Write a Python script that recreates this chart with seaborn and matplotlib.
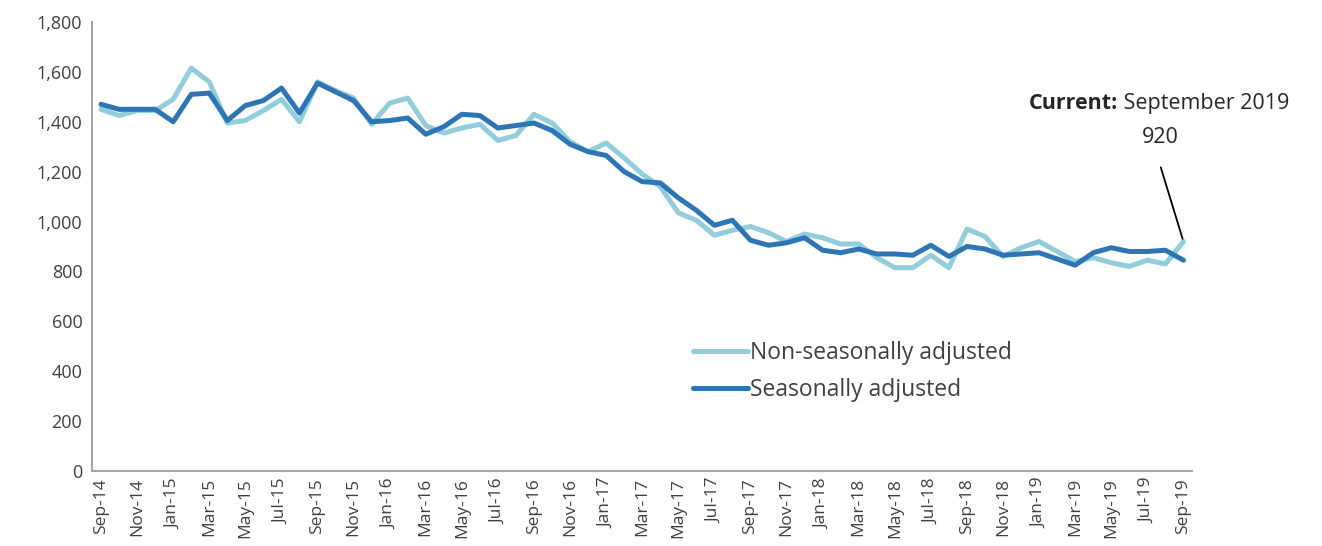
import numpy as np
import pandas as pd
import matplotlib
matplotlib.use('Agg')
import matplotlib.pyplot as plt
import seaborn as sns

# monthly, Sep-14 .. Sep-19
months = pd.date_range('2014-09-01', '2019-09-01', freq='MS')
month_labels = [d.strftime('%b-%y') for d in months]

nsa = [1450, 1425, 1445, 1445, 1490, 1615, 1560, 1395, 1405, 1445, 1490, 1400,
       1560, 1525, 1495, 1390, 1475, 1495, 1385, 1355, 1375, 1390, 1325, 1345,
       1430, 1395, 1320, 1280, 1315, 1255, 1190, 1140, 1035, 1005, 945, 965,
       980, 955, 920, 950, 935, 910, 910, 855, 815, 815, 865, 815,
       970, 940, 860, 895, 920, 880, 840, 855, 835, 820, 845, 830,
       920]
sa = [1470, 1450, 1450, 1450, 1400, 1510, 1515, 1405, 1465, 1485, 1535, 1435,
      1555, 1520, 1485, 1400, 1405, 1415, 1350, 1380, 1430, 1425, 1375, 1385,
      1395, 1365, 1310, 1280, 1265, 1200, 1160, 1155, 1095, 1045, 985, 1005,
      925, 905, 915, 935, 885, 875, 890, 870, 870, 865, 905, 860,
      900, 890, 865, 870, 875, 850, 825, 875, 895, 880, 880, 885,
      845]

series_names = ['Non-seasonally adjusted', 'Seasonally adjusted']
colors = ['#92CDDC', '#2E75B6']

df = pd.DataFrame({
    'idx': list(range(len(months))) * 2,
    'value': nsa + sa,
    'series': [series_names[0]] * len(nsa) + [series_names[1]] * len(sa),
})

sns.set_style('white')
plt.rcParams['font.family'] = ['Open Sans', 'DejaVu Sans']

fig = plt.figure(figsize=(13.22, 5.46), dpi=100)
ax = fig.add_axes([0.0696, 0.1374, 0.8324, 0.8223])

sns.lineplot(data=df, x='idx', y='value', hue='series', hue_order=series_names,
             palette=colors, linewidth=3.6, ax=ax, legend=False)

ax.set_xlim(-0.5, len(months) - 0.5)
ax.set_ylim(0, 1800)
ax.set_yticks(np.arange(0, 1801, 200))
ax.set_yticklabels([f'{v:,}' for v in range(0, 1801, 200)], fontsize=13, color='#404040')

# labels every 2 months, ticks between categories
label_pos = list(range(0, len(months), 2))
ax.set_xticks(label_pos)
ax.set_xticklabels([month_labels[i] for i in label_pos], rotation=90, fontsize=12.5,
                   color='#404040')
ax.set_xticks([i - 0.5 for i in label_pos], minor=True)
ax.tick_params(axis='x', which='major', length=0, pad=5)
ax.tick_params(axis='x', which='minor', length=5, color='#A6A6A6', width=1.2)
ax.tick_params(axis='y', length=5, color='#A6A6A6', width=1.2, pad=2)
ax.set_xlabel('')
ax.set_ylabel('')

for side in ['top', 'right']:
    ax.spines[side].set_visible(False)
for side in ['left', 'bottom']:
    ax.spines[side].set_color('#A6A6A6')
    ax.spines[side].set_linewidth(1.5)

# legend
handles = [plt.Line2D([], [], color=c, linewidth=3.6) for c in colors]
ax.legend(handles, series_names, loc='upper left', bbox_to_anchor=(0.527, 0.335),
          frameon=False, fontsize=16.5, handlelength=2.4, handletextpad=0.1,
          labelspacing=0.55, labelcolor='#404040')

# annotation for the latest value
ax.annotate('', xy=(60, nsa[-1]), xytext=(58.7, 1228),
            arrowprops=dict(arrowstyle='-', color='black', lw=1.3))

# "Current:" bold + date normal, centred as one block over the 920 label
renderer = fig.canvas.get_renderer()
t_bold = ax.text(0, 1475, 'Current:', fontsize=15.5, fontweight='bold',
                 color='#262626', ha='left', va='center')
t_norm = ax.text(0, 1475, ' September 2019', fontsize=15.5, color='#262626',
                 ha='left', va='center')
w_bold = t_bold.get_window_extent(renderer).width
w_norm = t_norm.get_window_extent(renderer).width
cx = ax.transData.transform((58.67, 1475))[0]
left = cx - (w_bold + w_norm) / 2
inv = ax.transData.inverted()
t_bold.set_x(inv.transform((left, 0))[0])
t_norm.set_x(inv.transform((left + w_bold, 0))[0])
ax.text(58.7, 1335, f'{nsa[-1]}', fontsize=15.5, color='#262626',
        ha='center', va='center')

fig.savefig('out.png', dpi=100)
